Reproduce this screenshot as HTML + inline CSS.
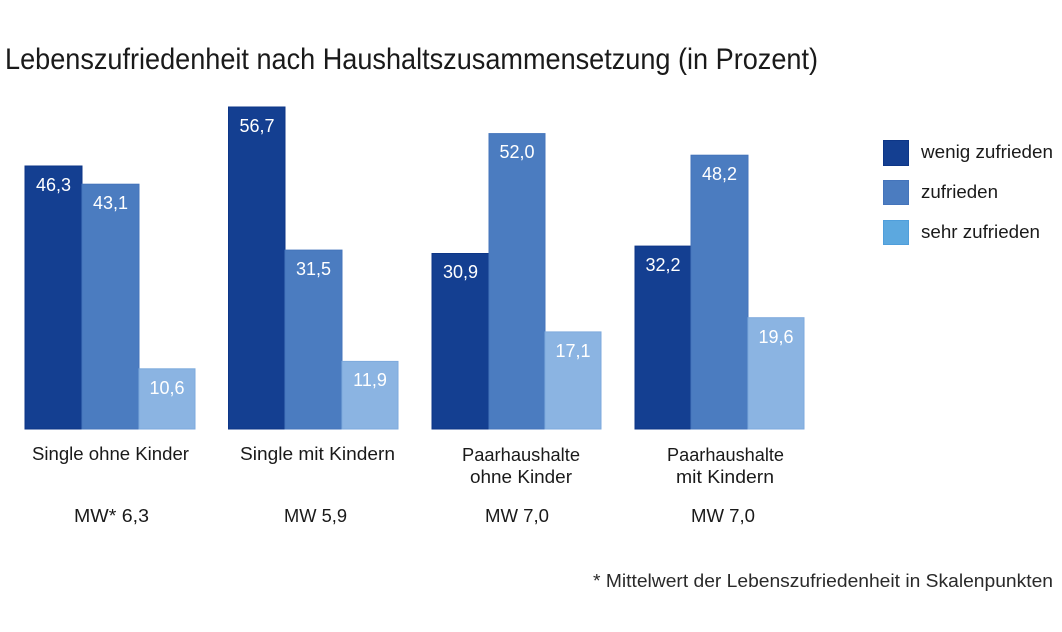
<!DOCTYPE html>
<html><head><meta charset="utf-8"><style>
html,body{margin:0;padding:0;background:#fff;}
svg{display:block;}
text{font-family:"Liberation Sans",sans-serif;}
</style></head><body>
<svg width="1062" height="632" viewBox="0 0 1062 632" xmlns="http://www.w3.org/2000/svg">
<rect width="1062" height="632" fill="#fff"/>
<text x="5" y="69" font-size="30" fill="#1a1a1a" textLength="813" lengthAdjust="spacingAndGlyphs">Lebenszufriedenheit nach Haushaltszusammensetzung (in Prozent)</text>

<g stroke-width="1">
<!-- group 1 -->
<rect x="25" y="166" width="57" height="263" fill="#143f91" stroke="#0d3687"/>
<rect x="82" y="184.2" width="57" height="244.8" fill="#4b7cc0" stroke="#4474bb"/>
<rect x="139" y="368.8" width="56" height="60.2" fill="#8bb4e2" stroke="#7eaadd"/>
<!-- group 2 -->
<rect x="228.5" y="107" width="56.5" height="322" fill="#143f91" stroke="#0d3687"/>
<rect x="285" y="250.1" width="57" height="178.9" fill="#4b7cc0" stroke="#4474bb"/>
<rect x="342" y="361.4" width="56" height="67.6" fill="#8bb4e2" stroke="#7eaadd"/>
<!-- group 3 -->
<rect x="432" y="253.5" width="57" height="175.5" fill="#143f91" stroke="#0d3687"/>
<rect x="489" y="133.6" width="56" height="295.4" fill="#4b7cc0" stroke="#4474bb"/>
<rect x="545" y="331.9" width="56" height="97.1" fill="#8bb4e2" stroke="#7eaadd"/>
<!-- group 4 -->
<rect x="635" y="246.1" width="56" height="182.9" fill="#143f91" stroke="#0d3687"/>
<rect x="691" y="155.2" width="57" height="273.8" fill="#4b7cc0" stroke="#4474bb"/>
<rect x="748" y="317.7" width="56" height="111.3" fill="#8bb4e2" stroke="#7eaadd"/>
</g>

<g font-size="18" fill="#fff" text-anchor="middle">
<text x="53.5" y="191">46,3</text>
<text x="110.5" y="209">43,1</text>
<text x="167" y="394">10,6</text>
<text x="257" y="132">56,7</text>
<text x="313.5" y="275">31,5</text>
<text x="370" y="386">11,9</text>
<text x="460.5" y="278">30,9</text>
<text x="517" y="158">52,0</text>
<text x="573" y="357">17,1</text>
<text x="663" y="271">32,2</text>
<text x="719.5" y="180">48,2</text>
<text x="776" y="343">19,6</text>
</g>

<g font-size="18" fill="#1a1a1a">
<text x="32" y="460" textLength="157" lengthAdjust="spacingAndGlyphs">Single ohne Kinder</text>
<text x="240" y="460" textLength="155" lengthAdjust="spacingAndGlyphs">Single mit Kindern</text>
<text x="462" y="461" textLength="118" lengthAdjust="spacingAndGlyphs">Paarhaushalte</text>
<text x="470" y="483" textLength="102" lengthAdjust="spacingAndGlyphs">ohne Kinder</text>
<text x="667" y="461" textLength="117" lengthAdjust="spacingAndGlyphs">Paarhaushalte</text>
<text x="676" y="483" textLength="98" lengthAdjust="spacingAndGlyphs">mit Kindern</text>
<text x="74" y="522" textLength="75" lengthAdjust="spacingAndGlyphs">MW* 6,3</text>
<text x="284" y="522" textLength="63" lengthAdjust="spacingAndGlyphs">MW 5,9</text>
<text x="485" y="522" textLength="64" lengthAdjust="spacingAndGlyphs">MW 7,0</text>
<text x="691" y="522" textLength="64" lengthAdjust="spacingAndGlyphs">MW 7,0</text>
</g>

<!-- legend -->
<rect x="883.5" y="140.5" width="25" height="25" fill="#143f91" stroke="#0d3687"/>
<rect x="883.5" y="180.5" width="25" height="24" fill="#4b7cc0" stroke="#4474bb"/>
<rect x="883.5" y="220.5" width="25" height="24" fill="#5ca8df" stroke="#4f9edb"/>
<g font-size="18" fill="#1a1a1a">
<text x="921" y="158" textLength="132" lengthAdjust="spacingAndGlyphs">wenig zufrieden</text>
<text x="921" y="198" textLength="77" lengthAdjust="spacingAndGlyphs">zufrieden</text>
<text x="921" y="238" textLength="119" lengthAdjust="spacingAndGlyphs">sehr zufrieden</text>
</g>

<text x="593" y="587" font-size="18" fill="#2a2a2a" textLength="460" lengthAdjust="spacingAndGlyphs">* Mittelwert der Lebenszufriedenheit in Skalenpunkten</text>
</svg>
</body></html>
